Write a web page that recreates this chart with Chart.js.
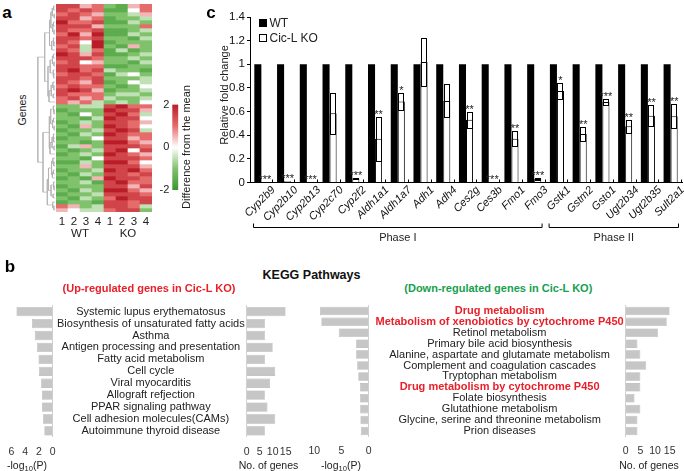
<!DOCTYPE html>
<html><head><meta charset="utf-8">
<script src="https://cdn.jsdelivr.net/npm/chart.js@4.4.1/dist/chart.umd.min.js"></script>
<style>
html,body{margin:0;padding:0;background:#fff;}
#root{position:relative;width:684px;height:471px;overflow:hidden;font-family:"Liberation Sans",Arial,sans-serif;color:#222;background:#fff;}
.t{position:absolute;white-space:nowrap;line-height:1;}
</style></head><body><div id="root"></div>
<script>
// ---------------- DATA ----------------
// Panel a: heatmap (levels 0..8 => -2..+2 in steps of 0.5), rows top->bottom, 8 samples
const heatColumns = ['1','2','3','4','1','2','3','4'];
const heatGroups = ['WT','KO'];
const heatRows = [
"77562156","76761146","67652235","77561223","86671132","77752226","76671123","68581132",
"77672213","76481222","67382152","76361312","87571123","77762232","67452213","77661122",
"78673221","67761342","77672223","76571243","67662124","78751223","76662332","67563223",
"65632324",
"22337866","12228775","21427863","22138774","12327765","21528764","12237873","21328766",
"12247756","22128865","13527776","21237847","12328765","22147776","11328864","22527775",
"12238786","21327767","12158776","22317866","12227757","21328865","12237776","21326877",
"12217767","65237763","54336772"];
// merge heights between neighbouring rows (dendrogram)
const dendroGaps = [0.8,1.6,0.5,2.4,0.9,1.3,0.6,3.2,1.0,0.7,1.9,6.0,0.9,1.5,0.6,2.8,1.1,0.8,4.1,1.2,0.7,2.2,1.0,3.5,
10,
1.1,0.6,2.5,0.9,1.4,0.5,3.3,1.0,0.8,1.7,0.6,2.9,7.0,1.2,0.7,2.0,0.9,1.5,3.8,1.0,0.6,2.3,1.1,4.5,1.3,0.7];
const colorbarTicks = [-2,0,2];
const heatStops = [[-2,[58,150,48]],[-1,[128,194,108]],[0,[255,255,255]],[1,[230,108,108]],[2,[185,30,40]]];

// Panel c
const genes = ['Cyp2b9','Cyp2b10','Cyp2b13','Cyp2c70','Cyp2f2','Aldh1a1','Aldh1a7','Adh1','Adh4','Ces2g','Ces3b','Fmo1','Fmo3','Gstk1','Gstm2','Gsto1','Ugt2b34','Ugt2b35','Sult2a1'];
const wtValues = [1,1,1,1,1,1,1,1,1,1,1,1,1,1,1,1,1,1,1];
const koValues = [0.005,0.01,0.005,0.585,0.035,0.37,0.685,1.02,0.69,0.53,0.005,0.37,0.03,0.775,0.41,0.68,0.475,0.565,0.56];
const koErrors = [0,0,0,0.175,0.004,0.185,0.075,0.2,0.14,0.07,0,0.062,0.012,0.065,0.058,0.025,0.055,0.09,0.1];
const koStars = ['***','***','***','','***','**','*','','','**','***','**','***','*','**','***','**','**','**'];
const yTicksC = [0,0.2,0.4,0.6,0.8,1,1.2,1.4];
const phaseNames = ['Phase I','Phase II'];
const phaseStart = [0,13];
const phaseEnd = [12,18];

// Panel b
const upPathways = ['Systemic lupus erythematosus','Biosynthesis of unsaturated fatty acids','Asthma','Antigen processing and presentation','Fatty acid metabolism','Cell cycle','Viral myocarditis','Allograft refjection','PPAR signaling pathway','Cell adhesion molecules(CAMs)','Autoimmune thyroid disease'];
const upLogP = [5.26,3.0,2.6,2.3,2.05,1.97,1.67,1.54,1.54,1.41,1.2];
const upGenes = [15,7,7,10,7,11,9,7,8,11,7];
const downPathways = ['Drug metabolism','Metabolism of xenobiotics by cytochrome P450','Retinol metabolism','Primary bile acid biosynthesis','Alanine, aspartate and glutamate metabolism','Complement and coagulation cascades','Tryptophan metabolism','Drug metabolism by cytochrome P450','Folate biosynthesis','Glutathione metabolism','Glycine, serine and threonine metabolism','Prion diseases'];
const downLogP = [8.95,8.7,5.5,2.3,2.3,2.1,1.9,1.6,1.6,1.55,1.5,1.43];
const downGenes = [15,14,11,4,5,7,5,5,3,5,4,4];
const downHighlight = [true,true,false,false,false,false,false,true,false,false,false,false];

// ---------------- HELPERS ----------------
const FONT = "'Liberation Sans', Arial, Helvetica, sans-serif";
const RED = '#e8202a', GREEN = '#16a04e', BAR = '#c6c6c6', BARB = '#b0b0b0';
Chart.defaults.font.family = FONT;
Chart.defaults.color = '#222';
Chart.defaults.animation = false;
Chart.defaults.responsive = false;
Chart.defaults.devicePixelRatio = 1;
Chart.defaults.plugins.legend.display = false;
Chart.defaults.plugins.tooltip.enabled = false;

const root = document.getElementById('root');
function makeCanvas(left, top, w, h) {
  const c = document.createElement('canvas');
  c.width = w; c.height = h;
  c.style.cssText = `position:absolute;left:${left}px;top:${top}px;width:${w}px;height:${h}px;`;
  root.appendChild(c);
  return c;
}
function label(text, x, y, o = {}) {
  const d = document.createElement('div');
  d.className = 't';
  d.style.fontSize = (o.size || 11) + 'px';
  d.style.fontWeight = o.weight || 'normal';
  d.style.color = o.color || '#222';
  d.style.lineHeight = '1';
  if (o.html) d.innerHTML = text; else d.textContent = text;
  d.style.left = x + 'px'; d.style.top = y + 'px';
  const tx = o.align === 'left' ? '0' : (o.align === 'right' ? '-100%' : '-50%');
  d.style.transform = `translate(${tx},-50%)` + (o.rotate ? ` rotate(${o.rotate}deg)` : '');
  root.appendChild(d);
  return d;
}
function heatColor(v) {
  for (let i = 0; i < heatStops.length - 1; i++) {
    const [a, ca] = heatStops[i], [b, cb] = heatStops[i + 1];
    if (v <= b) {
      const t = (v - a) / (b - a);
      return `rgb(${ca.map((c, k) => Math.round(c + (cb[k] - c) * t)).join(',')})`;
    }
  }
  return `rgb(${heatStops[heatStops.length - 1][1].join(',')})`;
}
const noGrid = {display: false, drawTicks: false};

// ---------------- PANEL A ----------------
label('a', 7, 12.3, {size: 17, weight: 'bold', color: '#000'});
label('Genes', 22, 110, {size: 10.5, rotate: -90});

// dendrogram
const dendroSegs = [];
function buildDendro(lo, hi) {
  if (lo === hi) return {y: lo + 0.5, h: 0};
  let k = lo;
  for (let i = lo; i < hi; i++) if (dendroGaps[i] > dendroGaps[k]) k = i;
  const L = buildDendro(lo, k), R = buildDendro(k + 1, hi), h = dendroGaps[k];
  dendroSegs.push({x: L.h, y: L.y}, {x: h, y: L.y}, {x: h, y: R.y}, {x: R.h, y: R.y}, {x: null, y: null});
  return {y: (L.y + R.y) / 2, h};
}
buildDendro(0, heatRows.length - 1);
new Chart(makeCanvas(30, 0, 26, 216), {
  type: 'line',
  data: {datasets: [{data: dendroSegs, borderColor: '#b0b0b0', borderWidth: 0.7, pointRadius: 0, spanGaps: false, tension: 0}]},
  options: {
    layout: {padding: {left: 7, right: 1, top: 4, bottom: 4}},
    scales: {
      x: {type: 'linear', reverse: true, min: 0, max: 10.5, display: false},
      y: {type: 'linear', reverse: true, min: 0, max: heatRows.length, display: false}
    }
  }
});

// heatmap (stacked unit bars)
new Chart(makeCanvas(50, 0, 110, 240), {
  type: 'bar',
  data: {
    labels: heatColumns,
    datasets: heatRows.map(row => ({
      data: heatColumns.map(() => 1),
      backgroundColor: row.split('').map(ch => heatColor((+ch - 4) / 2)),
      borderWidth: 0, barPercentage: 1, categoryPercentage: 1
    }))
  },
  options: {
    layout: {padding: {left: 6, right: 8, top: 4, bottom: 0}},
    scales: {
      x: {stacked: true, grid: noGrid, border: {display: false},
          ticks: {autoSkip: false, maxRotation: 0, minRotation: 0, font: {size: 11.5}, color: '#222', padding: 3},
          afterFit: a => { a.height = 28; }},
      y: {stacked: true, min: 0, max: heatRows.length, reverse: true, display: false}
    }
  }
});
label(heatGroups[0], 80, 234, {size: 11.5});
label(heatGroups[1], 128, 234, {size: 11.5});

// colour bar
new Chart(makeCanvas(155, 95, 45, 120), {
  type: 'bar',
  data: {labels: [''], datasets: [{
    data: [[colorbarTicks[0], colorbarTicks[colorbarTicks.length - 1]]],
    backgroundColor: ctx => {
      const ca = ctx.chart.chartArea;
      if (!ca) return '#ccc';
      const g = ctx.chart.ctx.createLinearGradient(0, ca.bottom, 0, ca.top);
      heatStops.forEach(([v, c]) => g.addColorStop((v + 2) / 4, `rgb(${c.join(',')})`));
      return g;
    },
    borderWidth: 0, barPercentage: 1, categoryPercentage: 1
  }]},
  options: {
    layout: {padding: {left: 0, right: 21.7, top: 8, bottom: 25}},
    scales: {
      x: {display: false},
      y: {min: -2, max: 2, afterBuildTicks: a => { a.ticks = colorbarTicks.map(v => ({value: v})); },
          ticks: {font: {size: 11}, color: '#222', padding: 3}, grid: noGrid, border: {display: false},
          afterFit: a => { a.width = 17.3; }}
    }
  }
});
label('Difference from the mean', 185.5, 146.5, {size: 11, rotate: -90});

// ---------------- PANEL C ----------------
label('c', 211, 12.3, {size: 17, weight: 'bold', color: '#000'});
label('Relative fold change', 224, 95, {size: 11, rotate: -90});
const lg1 = document.createElement('div');
lg1.style.cssText = 'position:absolute;left:259px;top:19px;width:8px;height:8px;background:#000;';
root.appendChild(lg1);
const lg2 = document.createElement('div');
lg2.style.cssText = 'position:absolute;left:259px;top:33.5px;width:8px;height:8px;background:#fff;border:1px solid #000;box-sizing:border-box;';
root.appendChild(lg2);
label('WT', 269.5, 23, {size: 12, align: 'left'});
label('Cic-L KO', 269.5, 37.5, {size: 12, align: 'left'});

const panelCPlugin = {
  id: 'panelC',
  afterDatasetsDraw(chart) {
    const ctx = chart.ctx, ys = chart.scales.y, xs = chart.scales.x;
    const meta = chart.getDatasetMeta(1);
    ctx.save();
    ctx.strokeStyle = '#000'; ctx.lineWidth = 1;
    meta.data.forEach((bar, i) => {
      const v = koValues[i], e = koErrors[i];
      const top = ys.getPixelForValue(v + e);
      if (e > 0) {
        const bot = ys.getPixelForValue(Math.max(v - e, 0));
        const cx = Math.round(bar.x);
        ctx.strokeRect(cx - 2.5, Math.round(top) + 0.5, 5, Math.round(bot) - Math.round(top));
      }
      if (koStars[i]) {
        ctx.font = `11px ${FONT}`; ctx.fillStyle = '#222';
        ctx.textAlign = 'center'; ctx.textBaseline = 'alphabetic';
        ctx.fillText(koStars[i], bar.x, top + 1);
      }
    });
    // small boundary marks on the x axis
    const n = genes.length, step = (xs.right - xs.left) / n;
    ctx.beginPath();
    for (let i = 1; i <= n; i++) {
      const px = Math.round(xs.getPixelForValue(i - 1) + step / 2) - 0.5;
      ctx.moveTo(px, xs.top); ctx.lineTo(px, xs.top - 3);
    }
    ctx.stroke();
    // phase brackets
    ctx.font = `11px ${FONT}`; ctx.fillStyle = '#222'; ctx.textAlign = 'center'; ctx.textBaseline = 'middle';
    phaseNames.forEach((name, k) => {
      const l = xs.getPixelForValue(phaseStart[k]) - step / 2 + 3.5;
      const r = xs.getPixelForValue(phaseEnd[k]) + step / 2 - 3.5;
      ctx.beginPath();
      ctx.moveTo(l, 223.5); ctx.lineTo(l, 227.5); ctx.lineTo(r, 227.5); ctx.lineTo(r, 223.5);
      ctx.stroke();
      ctx.fillText(name, (l + r) / 2, 237.5);
    });
    ctx.restore();
  }
};

new Chart(makeCanvas(200, 0, 484, 245), {
  type: 'bar',
  data: {labels: genes, datasets: [
    {label: 'WT', data: wtValues, backgroundColor: '#000', borderWidth: 0, categoryPercentage: 0.62, barPercentage: 1},
    {label: 'Cic-L KO', data: koValues, backgroundColor: '#fff', borderColor: '#000', borderWidth: 1, categoryPercentage: 0.62, barPercentage: 1}
  ]},
  options: {
    layout: {padding: {left: 0, right: 2, top: 17, bottom: 0}},
    scales: {
      x: {grid: noGrid, border: {color: '#000', width: 1},
          ticks: {autoSkip: false, maxRotation: 45, minRotation: 45, padding: 1, labelOffset: 12, font: {size: 11, style: 'italic'}, color: '#111'},
          afterFit: a => { a.height = 62.5; }},
      y: {min: 0, max: 1.4, afterBuildTicks: a => { a.ticks = yTicksC.map(v => ({value: v})); },
          ticks: {font: {size: 11.5}, color: '#111', padding: 2, callback: v => String(+(+v).toFixed(1))},
          grid: {drawOnChartArea: false, tickLength: 3, color: '#000'}, border: {color: '#000'},
          afterFit: a => { a.width = 50; }}
    }
  },
  plugins: [panelCPlugin]
});

// ---------------- PANEL B ----------------
label('b', 10, 266, {size: 17, weight: 'bold', color: '#000'});
label('KEGG Pathways', 311.5, 275, {size: 12.5, weight: 'bold', color: '#111'});
label('(Up-regulated genes in Cic-L KO)', 149, 287.5, {size: 11, weight: 'bold', color: RED});
label('(Down-regulated genes in Cic-L KO)', 498.3, 287.5, {size: 11, weight: 'bold', color: GREEN});

const xTickOpts = {autoSkip: false, maxRotation: 0, minRotation: 0, font: {size: 10.5}, color: '#333', padding: 8.5};
function pChart(left, w, padL, padR, padT, axisH, labels, values, max, step) {
  return new Chart(makeCanvas(left, 295, w, 176), {
    type: 'bar',
    data: {labels, datasets: [{data: values, backgroundColor: BAR, borderColor: BARB, borderWidth: 0.6, barPercentage: 0.78, categoryPercentage: 1}]},
    options: {
      indexAxis: 'y',
      layout: {padding: {left: padL, right: padR, top: padT, bottom: 0}},
      scales: {
        x: {reverse: true, min: 0, max, ticks: Object.assign({stepSize: step}, xTickOpts),
            grid: noGrid, border: {display: false}, afterFit: a => { a.height = axisH; }},
        y: {position: 'right', ticks: {display: false, autoSkip: false}, grid: noGrid, border: {color: '#d2d2d2', width: 1},
            afterFit: a => { a.width = 0; }}
      }
    }
  });
}
function geneChart(left, w, axisW, padR, padT, axisH, labels, values, fontFn, colorFn) {
  return new Chart(makeCanvas(left, 295, w, 176), {
    type: 'bar',
    data: {labels, datasets: [{data: values, backgroundColor: BAR, borderColor: BARB, borderWidth: 0.6, barPercentage: 0.78, categoryPercentage: 1}]},
    options: {
      indexAxis: 'y',
      layout: {padding: {left: 0, right: padR, top: padT, bottom: 0}},
      scales: {
        x: {min: 0, max: 15, ticks: Object.assign({stepSize: 5}, xTickOpts),
            grid: noGrid, border: {display: false}, afterFit: a => { a.height = axisH; }},
        y: {position: 'left', grid: noGrid, border: {color: '#d2d2d2', width: 1},
            ticks: {autoSkip: false, crossAlign: 'center', padding: 2, font: fontFn, color: colorFn},
            afterFit: a => { a.width = axisW; }}
      }
    }
  });
}
// up-regulated
pChart(0, 64, 6, 11, 10.7, 34.1, upPathways, upLogP, 6, 2);
geneChart(52, 248, 194.7, 8.7, 10.7, 34.1, upPathways, upGenes, () => ({size: 11}), () => '#222');
// down-regulated
pChart(300, 80, 13.3, 8.3, 10.5, 34.6, downPathways, downLogP, 10, 5);
geneChart(370, 314, 255.7, 10.7, 10.5, 34.6, downPathways, downGenes,
  ctx => ({size: 11, weight: downHighlight[ctx.index] ? 'bold' : 'normal'}),
  ctx => downHighlight[ctx.index] ? RED : '#222');

const logTitle = '-log<span style="font-size:0.72em;position:relative;top:0.28em">10</span>(P)';
label(logTitle, 27, 465, {size: 10.5, html: true});
label('No. of genes', 268.5, 465, {size: 10.5});
label(logTitle, 341, 465, {size: 10.5, html: true});
label('No. of genes', 649, 465, {size: 10.5});
</script>
</body></html>
